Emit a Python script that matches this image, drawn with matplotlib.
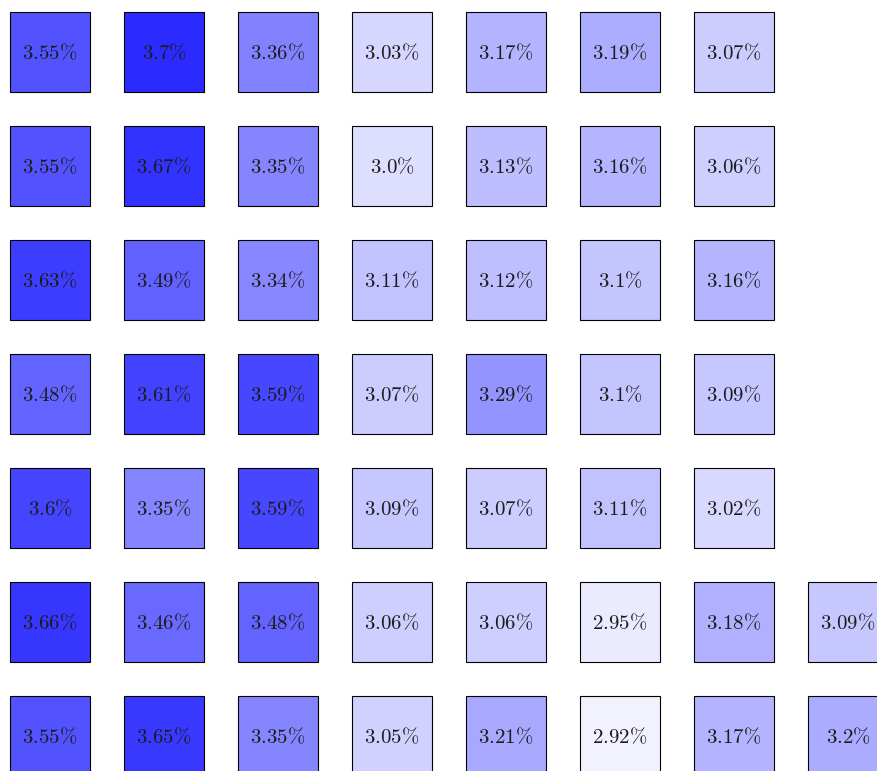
import matplotlib
matplotlib.use("Agg")
import matplotlib.pyplot as plt
from matplotlib.patches import Rectangle

plt.rcParams["mathtext.fontset"] = "cm"

# Percentages per row (None = empty cell)
row1 = [3.55, 3.7, 3.36, 3.03, 3.17, 3.19, 3.07, None]
row2 = [3.55, 3.67, 3.35, 3.0, 3.13, 3.16, 3.06, None]
row3 = [3.63, 3.49, 3.34, 3.11, 3.12, 3.1, 3.16, None]
row4 = [3.48, 3.61, 3.59, 3.07, 3.29, 3.1, 3.09, None]
row5 = [3.6, 3.35, 3.59, 3.09, 3.07, 3.11, 3.02, None]
row6 = [3.66, 3.46, 3.48, 3.06, 3.06, 2.95, 3.18, 3.09]
row7 = [3.55, 3.65, 3.35, 3.05, 3.21, 2.92, 3.17, 3.2]
rows = [row1, row2, row3, row4, row5, row6, row7]

W, H = 878, 771
PITCH = 114.0  # px between cell origins
CELL = 80.0 / PITCH
X0, Y0 = 10.0, 12.0

fig = plt.figure(figsize=(W / 100, H / 100), dpi=100)
ax = fig.add_axes([0, 0, 1, 1])
ax.set_xlim(-X0 / PITCH, (W - X0) / PITCH)
ax.set_ylim((H - Y0) / PITCH, -Y0 / PITCH)
ax.axis("off")


def shade(v):
    f = min(max(v - 2.87, 0.0), 1.0)
    return (1 - f, 1 - f, 1.0)


for r, vals in enumerate(rows):
    for c, v in enumerate(vals):
        if v is None:
            continue
        ax.add_patch(Rectangle((c, r), CELL, CELL, facecolor=shade(v),
                               edgecolor="black", linewidth=0.8))
        ax.text(c + CELL / 2, r + CELL / 2 + 0.01, r"$\mathrm{%s\%%}$" % str(v),
                ha="center", va="center", fontsize=15, color="#1c1c1c")

fig.savefig("out.png", dpi=100)
